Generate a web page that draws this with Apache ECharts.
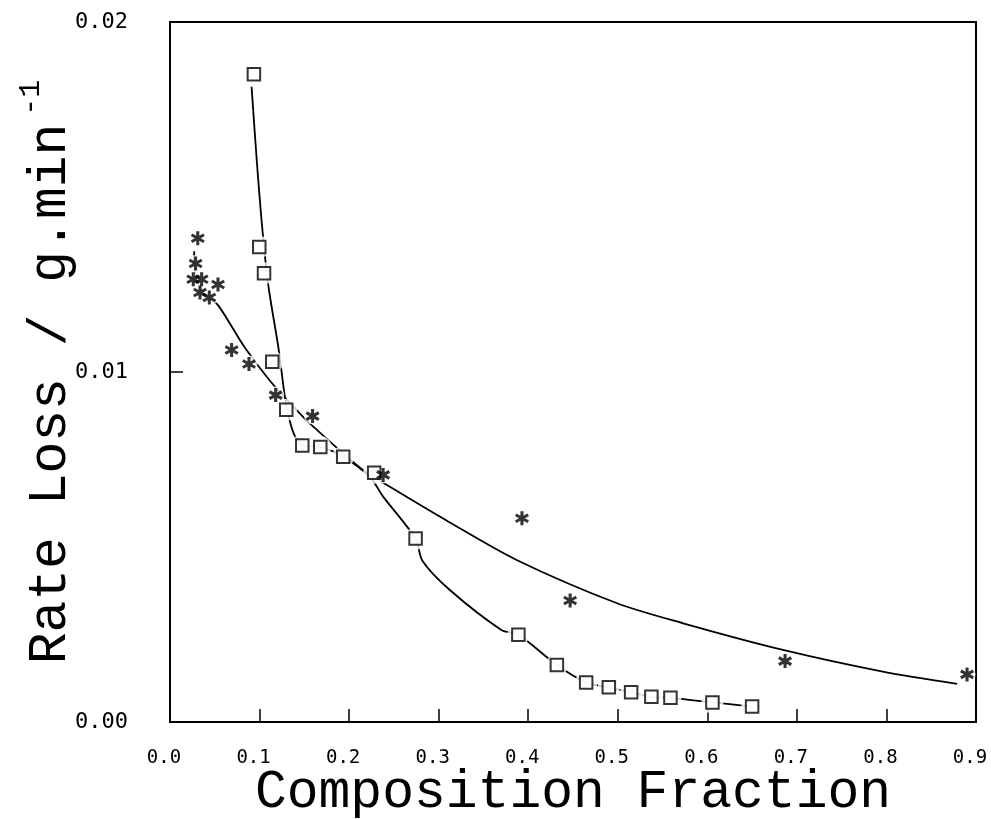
<!DOCTYPE html>
<html>
<head>
<meta charset="utf-8">
<script src="https://cdn.jsdelivr.net/npm/echarts@6/dist/echarts.min.js"></script>
<style>html,body{margin:0;padding:0;background:#fff}#c{width:991px;height:819px}</style>
</head>
<body>
<div id="c"></div>
<script>
// Square markers (x, y)
const squarePoints = [
  [0.0937, 0.01851], [0.0997, 0.01357], [0.105, 0.01282], [0.1142, 0.01029],
  [0.1298, 0.00892], [0.1477, 0.00790], [0.1678, 0.00786], [0.1934, 0.00758],
  [0.228, 0.00712], [0.2742, 0.00524], [0.389, 0.00249], [0.432, 0.00163],
  [0.4647, 0.00113], [0.490, 0.00099], [0.5149, 0.00085], [0.5375, 0.00072],
  [0.5588, 0.00069], [0.6057, 0.00056], [0.650, 0.00044]
];
// Curve through the square data
const squareCurve = [
  [0.0911, 0.01815], [0.0970, 0.0160], [0.1034, 0.0140], [0.1097, 0.01249],
  [0.1209, 0.01072], [0.1246, 0.01001], [0.1283, 0.00929], [0.134, 0.00858],
  [0.1395, 0.00817], [0.1477, 0.00790], [0.1678, 0.00786], [0.1934, 0.00758],
  [0.2232, 0.00700], [0.238, 0.00644], [0.2742, 0.00524], [0.282, 0.00460],
  [0.3125, 0.00377], [0.370, 0.00263], [0.389, 0.00249], [0.432, 0.00163],
  [0.4647, 0.00113], [0.490, 0.00099], [0.5149, 0.00085], [0.5375, 0.00072],
  [0.5588, 0.00069], [0.6057, 0.00056], [0.650, 0.00044]
];
// Star markers (x, y)
const starPoints = [
  [0.031, 0.01382], [0.0286, 0.01310], [0.026, 0.01265], [0.0353, 0.01265],
  [0.0536, 0.0125], [0.0335, 0.01227], [0.0439, 0.01213], [0.0688, 0.01063],
  [0.0882, 0.01023], [0.118, 0.00934], [0.1592, 0.00874], [0.238, 0.00706],
  [0.393, 0.00582], [0.4468, 0.00347], [0.6868, 0.00174], [0.890, 0.00136]
];
// Fitted curve through the star data
const starCurve = [
  [0.027, 0.01345], [0.0285, 0.01265], [0.040, 0.01220], [0.0536, 0.01191],
  [0.0837, 0.01069], [0.1116, 0.00975], [0.143, 0.00887], [0.160, 0.00844],
  [0.2155, 0.00720], [0.2474, 0.00669], [0.3125, 0.00570],
  [0.387, 0.00463], [0.4985, 0.00340], [0.573, 0.00282],
  [0.6845, 0.00206], [0.796, 0.00144], [0.879, 0.00109]
];
const xTicks = ['0.0','0.1','0.2','0.3','0.4','0.5','0.6','0.7','0.8','0.9'];
const yTicks = ['0.00','0.01','0.02'];

const starPath = 'path://M1.5,-7L1.5,7L-1.5,7L-1.5,-7Z' +
  'M-5.312,-4.799L6.812,2.201L5.312,4.799L-6.812,-2.201Z' +
  'M6.812,-2.201L-5.312,4.799L-6.812,2.201L5.312,-4.799Z';

const chart = echarts.init(document.getElementById('c'));
chart.setOption({
  backgroundColor: '#fff',
  animation: false,
  grid: {left: 170, right: 15, top: 22, bottom: 97, show: true, borderColor: '#000', borderWidth: 2,
    backgroundColor: 'transparent', containLabel: false, outerBoundsMode: 'none'},
  xAxis: {
    type: 'value', min: 0, max: 0.9, interval: 0.1,
    axisLine: {lineStyle: {color: '#000', width: 2}},
    axisTick: {inside: true, length: 13, lineStyle: {color: '#000', width: 1.5}},
    splitLine: {show: false},
    axisLabel: {color: '#000', fontFamily: 'DejaVu Sans Mono', fontSize: 19, margin: 27,
      padding: [0, 12, 0, 0],
      formatter: v => xTicks[Math.round(v * 10)]},
    name: 'Composition Fraction', nameLocation: 'middle', nameGap: 44, nameMoveOverlap: false,
    nameTextStyle: {color: '#000', fontFamily: 'Liberation Mono', fontSize: 53}
  },
  yAxis: {
    type: 'value', min: 0, max: 0.02, interval: 0.01,
    axisLine: {lineStyle: {color: '#000', width: 2}},
    axisTick: {inside: true, length: 13, lineStyle: {color: '#000', width: 1.5}},
    splitLine: {show: false},
    axisLabel: {color: '#000', fontFamily: 'DejaVu Sans Mono', fontSize: 22, margin: 42,
      formatter: v => yTicks[Math.round(v * 100)]},
    name: 'Rate Loss / g.min{sup|-1}', nameLocation: 'middle', nameGap: 84, nameMoveOverlap: false,
    nameTextStyle: {color: '#000', fontFamily: 'Liberation Mono', fontSize: 53,
      rich: {sup: {fontFamily: 'Liberation Mono', fontSize: 30, color: '#000', verticalAlign: 'top', padding: [0, 0, 40, 8]}}}
  },
  series: [
    {type: 'line', data: starCurve, smooth: 0.3, showSymbol: false, symbol: 'none',
      lineStyle: {color: '#000', width: 1.8}, z: 2},
    {type: 'line', data: squareCurve, smooth: 0.3, showSymbol: false, symbol: 'none',
      lineStyle: {color: '#000', width: 1.8}, z: 2},
    // white gaps that the plotting program left round each mark
    {type: 'scatter', data: squarePoints, symbol: 'circle', symbolSize: 22, silent: true,
      itemStyle: {color: '#fff'}, z: 3},
    {type: 'scatter', data: starPoints, symbol: 'circle', symbolSize: 17, silent: true,
      itemStyle: {color: '#fff'}, z: 3},
    {type: 'scatter', data: squarePoints, symbol: 'rect', symbolSize: 12.5,
      itemStyle: {color: '#fff', borderColor: '#000', borderWidth: 2}, z: 4},
    {type: 'scatter', data: starPoints, symbol: starPath, symbolSize: [14, 14],
      itemStyle: {color: '#000'}, z: 5}
  ]
});
</script>
</body>
</html>
